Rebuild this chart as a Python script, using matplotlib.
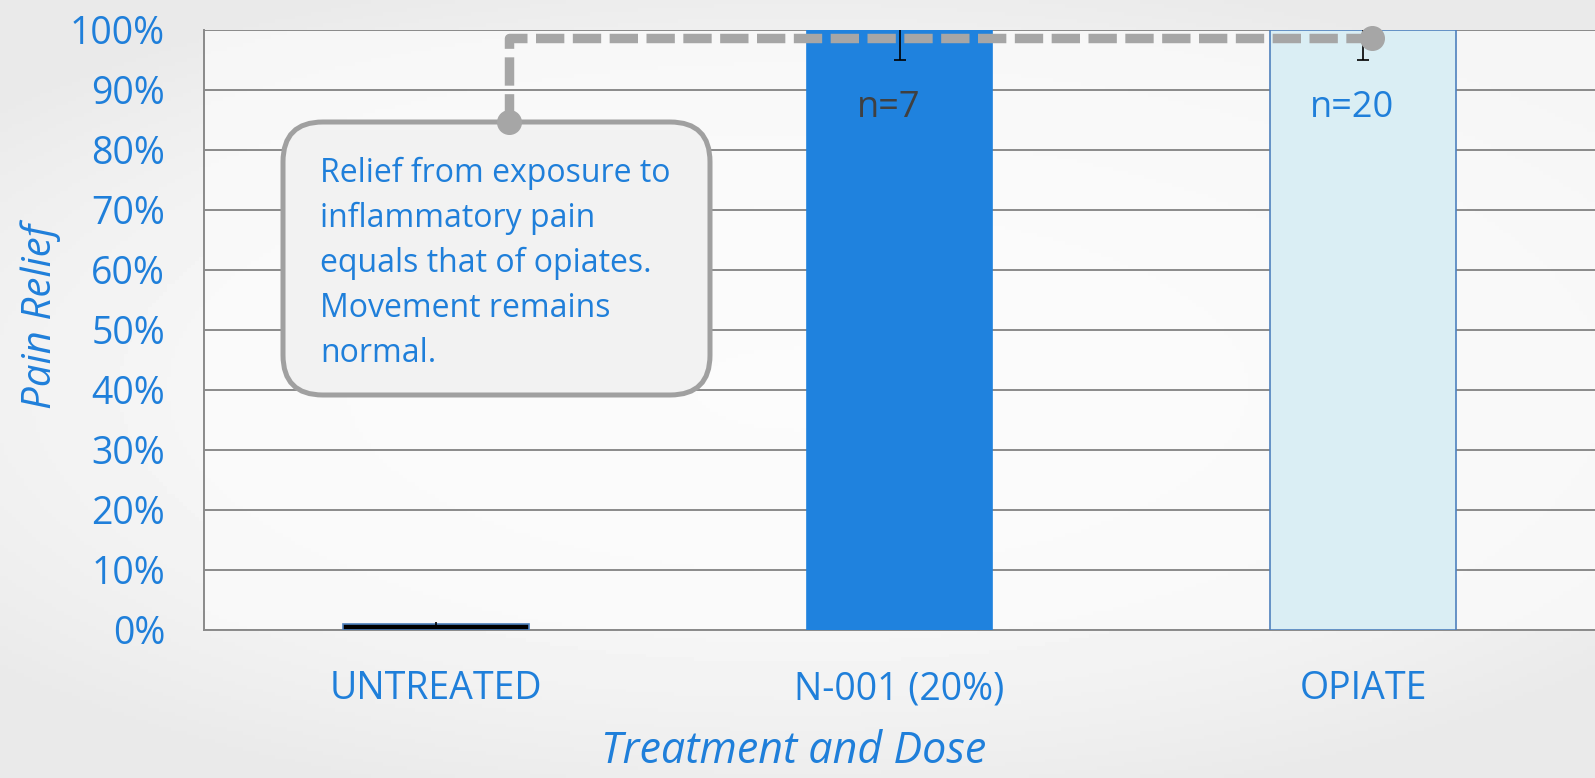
import numpy as np
import matplotlib.pyplot as plt
from matplotlib.patches import FancyBboxPatch

# data
categories = ['UNTREATED', 'N-001 (20%)', 'OPIATE']
relief = [0.01, 1.00, 1.00]
err_low = [0.003, 0.05, 0.05]
err_high = [0.003, 0.0, 0.0]
n_labels = ['', 'n=7', 'n=20']
yticks = np.arange(0, 1.01, 0.1)
ytick_labels = [f'{int(round(v * 100))}%' for v in yticks]

note = ('Relief from exposure to\ninflammatory pain\nequals that of opiates.\n'
        'Movement remains\nnormal.')

# style
blue_txt = '#1F7FDA'
bar_face = ['#000000', '#1F82DE', '#DAEEF4']
bar_edge = ['#4F81BD', '#1F82DE', '#4F81BD']
n_colors = ['#404040', '#404040', blue_txt]
grid_col = '#8A8A8A'
conn_col = '#A6A6A6'
W, H = 1595, 778

plt.rcParams['font.family'] = ['Open Sans', 'DejaVu Sans']

fig = plt.figure(figsize=(W / 100, H / 100), dpi=100)

# soft grey background
bg = fig.add_axes([0, 0, 1, 1], zorder=-10)
gx, gy = np.meshgrid(np.linspace(-1, 1, 400), np.linspace(-1, 1, 200))
shade = 0.985 - 0.07 * np.clip(0.55 * gx ** 2 + 0.8 * gy ** 2, 0, 1)
bg.imshow(shade, cmap='gray', vmin=0, vmax=1, aspect='auto', extent=[0, 1, 0, 1])
bg.set_axis_off()

ax = fig.add_axes([204 / W, 1 - 630 / H, 1 - 204 / W, 600 / H])
ax.patch.set_facecolor('#FCFCFC')
ax.patch.set_alpha(0.7)

x = np.arange(len(categories))
ax.bar(x, relief, width=0.4, color=bar_face, edgecolor=bar_edge, linewidth=1.2, zorder=3)
eb = ax.errorbar(x, relief, yerr=[err_low, err_high], fmt='none', ecolor='black',
                 elinewidth=1.2, capsize=4.5, capthick=1.2, zorder=6)
# only the lower caps are shown
eb[1][1].set_visible(False)

for xi, lab, c in zip(x, n_labels, n_colors):
    if lab:
        ax.text(xi - 0.024, 0.87, lab, ha='center', va='center', fontsize=26, color=c, zorder=7)

ax.set_xlim(-0.5, 2.5)
ax.set_ylim(0, 1)
ax.set_yticks(yticks)
ax.set_yticklabels(ytick_labels)
ax.set_xticks(x)
ax.set_xticklabels(categories)
ax.tick_params(axis='y', length=0, pad=28, labelsize=27, labelcolor=blue_txt)
ax.tick_params(axis='x', length=0, pad=29, labelsize=27, labelcolor=blue_txt)
ax.grid(axis='y', color=grid_col, linewidth=1.4, zorder=0)
ax.set_axisbelow(True)
for s in ['top', 'right']:
    ax.spines[s].set_visible(False)
for s in ['left', 'bottom']:
    ax.spines[s].set_color(grid_col)
    ax.spines[s].set_linewidth(1.4)

# callout box
box = FancyBboxPatch((283 / W, 1 - 395 / H), 427 / W, 273 / H,
                     boxstyle='round,pad=0,rounding_size=0.025',
                     mutation_aspect=W / H, transform=fig.transFigure, clip_on=False,
                     facecolor='#F2F2F2', edgecolor='#A0A0A0', linewidth=3.6, zorder=8)
ax.add_patch(box)
ax.text(320 / W, 1 - 157 / H, note, ha='left', va='top', fontsize=23,
        color=blue_txt, linespacing=1.47, transform=fig.transFigure, zorder=9)

# dashed connector from the callout to the opiate bar
conn_x = [0.158, 0.158, 2.019]
conn_y = [0.846, 0.987, 0.987]
ax.plot(conn_x, conn_y, color=conn_col, lw=6.8, dashes=(3.0, 0.9),
        solid_capstyle='butt', clip_on=False, zorder=5)
ax.plot([conn_x[0], conn_x[-1]], [conn_y[0], conn_y[-1]], 'o', color=conn_col,
        ms=17, clip_on=False, zorder=10)

fig.text(794 / W, 1 - 752 / H, 'Treatment and Dose', ha='center', va='center',
         fontsize=31, style='italic', color=blue_txt)
fig.text(41 / W, 1 - 316 / H, 'Pain Relief', ha='center', va='center', rotation=90,
         fontsize=29, style='italic', color=blue_txt)

fig.savefig('out.png', dpi=100)
